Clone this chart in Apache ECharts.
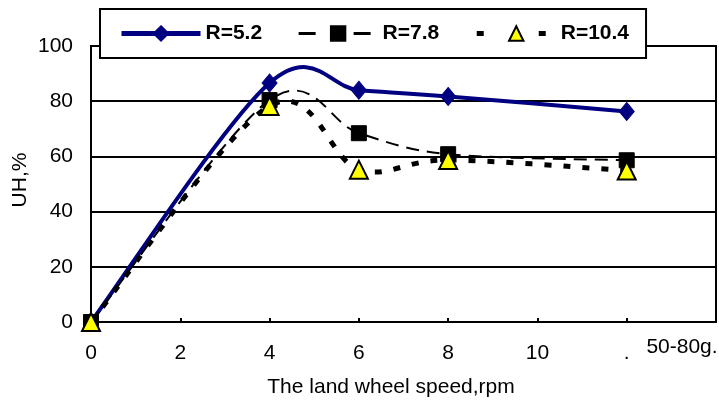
<!DOCTYPE html>
<html>
<head>
<meta charset="utf-8">
<script src="https://cdn.jsdelivr.net/npm/echarts@6/dist/echarts.min.js"></script>
<style>
html,body{margin:0;padding:0;background:#fff;}
#c{width:719px;height:401px;}
</style>
</head>
<body>
<div id="c"></div>
<script>
var xValues = [0, 4, 6, 8, 12];
var seriesNames = ['R=5.2', 'R=7.8', 'R=10.4'];
var r52 = [0, 86.6, 84, 81.7, 76.3];
var r78 = [0, 80.4, 68.4, 60.8, 58.6];
var r104 = [0, 78.3, 55.2, 58.7, 54.9];
var yTicks = [0, 20, 40, 60, 80, 100];
var xTickLabels = {0:'0', 2:'2', 4:'4', 6:'6', 8:'8', 10:'10', 12:'.'};
var xTitle = 'The land wheel speed,rpm';
var yTitle = 'UH,%';
var note = '50-80g.';

function pairs(xs, ys){ return xs.map(function(x,i){ return [x, ys[i]]; }); }

// Excel-style smoothed curve through the data points, mapped with the chart's own scales
function curveRenderer(ys, stroke, width, dash){
  return function(params, api){
    if (params.dataIndex !== 0) return null;
    var P = xValues.map(function(x, i){ return api.coord([x, ys[i]]); });
    var n = P.length;
    var d = 'M' + P[0][0] + ' ' + P[0][1];
    for (var i = 0; i < n - 1; i++) {
      var p0 = P[Math.max(i - 1, 0)], p1 = P[i], p2 = P[i + 1], p3 = P[Math.min(i + 2, n - 1)];
      var c1x = p1[0] + (p2[0] - p0[0]) / 6, c1y = p1[1] + (p2[1] - p0[1]) / 6;
      var c2x = p2[0] - (p3[0] - p1[0]) / 6, c2y = p2[1] - (p3[1] - p1[1]) / 6;
      d += ' C' + c1x + ' ' + c1y + ' ' + c2x + ' ' + c2y + ' ' + p2[0] + ' ' + p2[1];
    }
    return {type: 'path', shape: {pathData: d}, style: {fill: 'none', stroke: stroke, lineWidth: width, lineDash: dash}, silent: true};
  };
}

var FONT = '"Liberation Sans", Arial, sans-serif';
var chart = echarts.init(document.getElementById('c'), null, {renderer:'canvas'});
chart.setOption({
  animation: false,
  backgroundColor: '#fff',
  grid: {left: 91, right: 3, top: 46, bottom: 79, show: true, borderColor: '#000', borderWidth: 2, backgroundColor: 'transparent'},
  legend: {
    data: [
      {name: seriesNames[0], lineStyle: {opacity: 1, width: 5, color: '#000080', type: 'solid'}},
      {name: seriesNames[1], lineStyle: {opacity: 1, width: 3, color: '#000', type: [17, 38]}},
      {name: seriesNames[2], lineStyle: {opacity: 1, width: 5, color: '#000', type: [7, 55]}}
    ],
    left: 100, top: 9,
    padding: [14, 17, 14, 19],
    itemWidth: 79, itemHeight: 18, itemGap: 35,
    borderColor: '#000', borderWidth: 2, backgroundColor: '#fff',
    textStyle: {fontFamily: FONT, fontSize: 21, fontWeight: 'bold', color: '#000'}
  },
  xAxis: {
    type: 'value', min: 0, max: 14, interval: 2,
    axisLine: {show: true, lineStyle: {color: '#000', width: 2}},
    axisTick: {show: true, inside: true, length: 4, lineStyle: {color: '#000', width: 2}},
    splitLine: {show: false},
    axisLabel: {fontFamily: FONT, fontSize: 21, color: '#000', margin: 21,
      formatter: function(v){ return xTickLabels[v] !== undefined ? xTickLabels[v] : ''; }}
  },
  yAxis: {
    type: 'value', min: yTicks[0], max: yTicks[yTicks.length-1], interval: 20,
    axisLine: {show: true, lineStyle: {color: '#000', width: 2}},
    axisTick: {show: false},
    splitLine: {show: true, lineStyle: {color: '#000', width: 2}},
    axisLabel: {fontFamily: FONT, fontSize: 21, color: '#000', margin: 18}
  },
  graphic: [
    {type: 'text', x: 20, y: 180, rotation: Math.PI/2, style: {text: yTitle, font: '21px ' + FONT, fill: '#000', align: 'center', verticalAlign: 'middle'}},
    {type: 'text', x: 391, y: 387, style: {text: xTitle, font: '21px ' + FONT, fill: '#000', align: 'center', verticalAlign: 'middle'}},
    {type: 'text', x: 682, y: 347, style: {text: note, font: '21px ' + FONT, fill: '#000', align: 'center', verticalAlign: 'middle'}}
  ],
  series: [
    {type: 'custom', name: 'c52', data: pairs(xValues, r52), renderItem: curveRenderer(r52, '#000080', 4, null), z: 2, silent: true},
    {type: 'custom', name: 'c78', data: pairs(xValues, r78), renderItem: curveRenderer(r78, '#000', 2, [13, 8]), z: 2, silent: true},
    {type: 'custom', name: 'c104', data: pairs(xValues, r104), renderItem: curveRenderer(r104, '#000', 5, [7, 12]), z: 2, silent: true},
    {name: seriesNames[0], type: 'line', data: pairs(xValues, r52),
      symbol: 'diamond', symbolSize: [15, 18],
      lineStyle: {color: '#000080', width: 4, opacity: 0},
      itemStyle: {color: '#000080', borderColor: '#000080', borderWidth: 1}, z: 3},
    {name: seriesNames[1], type: 'line', data: pairs(xValues, r78),
      symbol: 'rect', symbolSize: 15,
      lineStyle: {color: '#000', width: 2, opacity: 0},
      itemStyle: {color: '#000', borderColor: '#000', borderWidth: 1}, z: 4},
    {name: seriesNames[2], type: 'line', data: pairs(xValues, r104),
      symbol: 'triangle', symbolSize: [18, 18],
      lineStyle: {color: '#000', width: 5, opacity: 0},
      itemStyle: {color: '#ffff00', borderColor: '#000', borderWidth: 2}, z: 5}
  ]
});
</script>
</body>
</html>
